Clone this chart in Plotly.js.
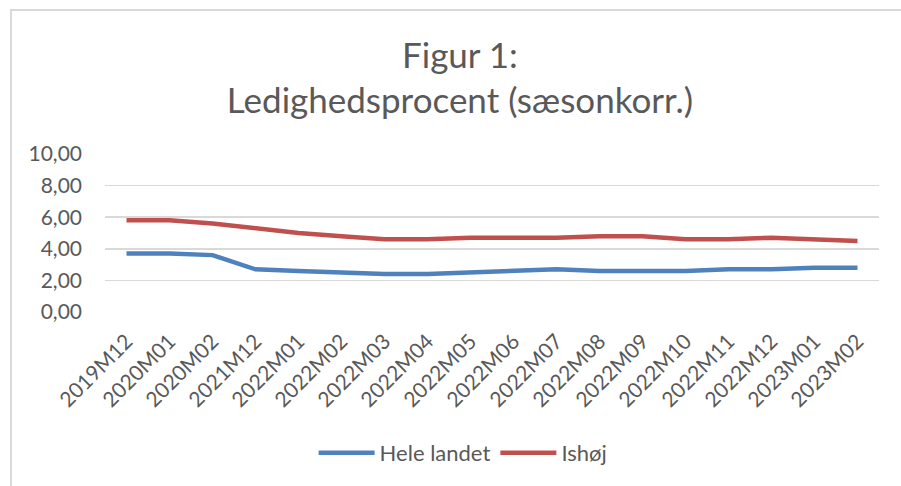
<!DOCTYPE html>
<html>
<head>
<meta charset="utf-8">
<script src="https://cdn.plot.ly/plotly-3.0.1.min.js"></script>
<style>
html,body{margin:0;padding:0;background:#fff;}
#wrap{position:relative;width:901px;height:486px;overflow:hidden;}
#frame{position:absolute;left:10px;top:9px;width:1000px;height:600px;border-left:2px solid #d9d9d9;border-top:2px solid #d9d9d9;pointer-events:none;z-index:5;}
#chart{position:absolute;left:0;top:0;width:901px;height:486px;}
</style>
</head>
<body>
<div id="wrap"><div id="chart"></div><div id="frame"></div></div>
<script>
const categories = ["2019M12","2020M01","2020M02","2021M12","2022M01","2022M02","2022M03","2022M04","2022M05","2022M06","2022M07","2022M08","2022M09","2022M10","2022M11","2022M12","2023M01","2023M02"];
const heleLandet = [3.7,3.7,3.6,2.7,2.6,2.5,2.4,2.4,2.5,2.6,2.7,2.6,2.6,2.6,2.7,2.7,2.8,2.8];
const ishoj = [5.8,5.8,5.6,5.3,5.0,4.8,4.6,4.6,4.7,4.7,4.7,4.8,4.8,4.6,4.6,4.7,4.6,4.5];
const yTicks = [0,2,4,6,8,10];

const font = "Lato, 'Liberation Sans', sans-serif";
const traces = [
  {x: categories, y: heleLandet, name: "Hele landet", type: "scatter", mode: "lines",
   line: {color: "#4f81bd", width: 4.5}},
  {x: categories, y: ishoj, name: "Ishøj", type: "scatter", mode: "lines",
   line: {color: "#c0504d", width: 4.5}}
];
const layout = {
  width: 901, height: 486,
  margin: {l: 105, r: 22, t: 154, b: 174},
  paper_bgcolor: "#fff", plot_bgcolor: "#fff",
  separators: ",.",
  font: {family: font, color: "#595959", size: 21},
  title: {text: "Figur 1:<br>Ledighedsprocent (sæsonkorr.)", font: {family: font, size: 35, color: "#595959"},
          xref: "container", x: 0.5105, xanchor: "center", yref: "container", y: 0.861, yanchor: "middle"},
  xaxis: {type: "category", tickangle: -45, showgrid: false, zeroline: false, showline: false,
          ticks: "", tickfont: {size: 21, color: "#595959"}, range: [-0.5, 17.5], ticklabelstandoff: 12},
  yaxis: {range: [0, 10], tickvals: yTicks, tickformat: ".2f", showgrid: true, gridcolor: "#d9d9d9", gridwidth: 1.5,
          zeroline: false, showline: false, ticks: "", tickfont: {size: 21, color: "#595959"}, ticklabelstandoff: 22},
  showlegend: true,
  legend: {orientation: "h", x: 0.514, xref: "container", xanchor: "center", y: 0.068, yref: "container", yanchor: "middle",
           font: {size: 22, color: "#595959"}, itemwidth: 56}
};
Plotly.newPlot("chart", traces, layout, {displayModeBar: false, staticPlot: true});
</script>
</body>
</html>
